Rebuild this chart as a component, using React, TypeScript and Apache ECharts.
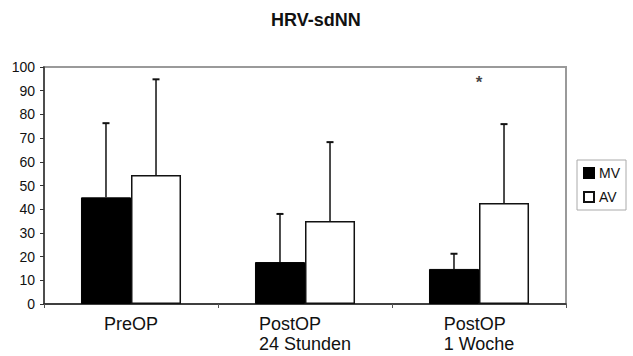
import React, { useEffect, useRef } from "react";
import * as echarts from "echarts";

const categories = ["PreOP", "PostOP\n24 Stunden", "PostOP\n1 Woche"];
const mvMean = [45, 17.7, 14.8];
const mvUpper = [76.3, 38, 21.2];
const avMean = [54.4, 35, 42.6];
const avUpper = [94.8, 68.3, 75.9];
const yTicks = { min: 0, max: 100, interval: 10 };
const star = [[2, 96]];

const FONT = "'Liberation Sans', Arial, sans-serif";

export default function App() {
  const ref = useRef<HTMLDivElement>(null);
  useEffect(() => {
    if (!ref.current) return;
    const chart = echarts.init(ref.current, null, { renderer: "svg" });
    const errData = [
      ...mvMean.map((m, i) => [i, m, mvUpper[i], -1]),
      ...avMean.map((m, i) => [i, m, avUpper[i], 1]),
    ];
    chart.setOption({
      animation: false,
      backgroundColor: "#fff",
      textStyle: { fontFamily: FONT },
      title: {
        text: "HRV-sdNN",
        left: 266,
        top: 6,
        textStyle: { fontSize: 18, fontWeight: "bold", color: "#111", fontFamily: FONT },
      },
      legend: {
        data: ["MV", "AV"],
        orient: "vertical",
        left: 577,
        top: 160,
        icon: "rect",
        itemWidth: 10,
        itemHeight: 10,
        itemGap: 10,
        itemTextGap: 3,
        padding: [6, 6, 6, 6],
        borderColor: "#aaa",
        borderWidth: 1,
        textStyle: { fontSize: 14, color: "#111", fontFamily: FONT },
      },
      grid: {
        left: 44,
        right: 67,
        top: 67,
        bottom: 52,
        show: true,
        outerBoundsMode: "none",
        containLabel: false,
        borderColor: "#9a9a9a",
        borderWidth: 2,
        backgroundColor: "transparent",
      },
      xAxis: {
        type: "category",
        data: categories,
        axisLine: { lineStyle: { color: "#222", width: 1.5 } },
        axisTick: { show: true, length: 4, lineStyle: { color: "#555" } },
        axisLabel: {
          margin: 10,
          color: "#111",
          fontSize: 18,
          fontFamily: FONT,
          lineHeight: 20,
          formatter: (v: string) =>
            v.indexOf("\n") >= 0
              ? v.split("\n").map((l) => `{a|${l}}`).join("\n")
              : v,
          rich: {
            a: { align: "left", fontSize: 18, lineHeight: 20, color: "#111", fontFamily: FONT },
          },
        },
      },
      yAxis: {
        type: "value",
        min: yTicks.min,
        max: yTicks.max,
        interval: yTicks.interval,
        splitLine: { show: false },
        axisLine: { show: true, lineStyle: { color: "#333", width: 1.5 } },
        axisTick: { show: true, length: 4, lineStyle: { color: "#333" } },
        axisLabel: { color: "#111", fontSize: 14, margin: 9, fontFamily: FONT },
      },
      series: [
        {
          name: "MV",
          type: "bar",
          data: mvMean,
          barGap: "0%",
          barCategoryGap: "42.5%",
          itemStyle: { color: "#000", borderColor: "#000", borderWidth: 1 },
        },
        {
          name: "AV",
          type: "bar",
          data: avMean,
          barGap: "0%",
          barCategoryGap: "42.5%",
          itemStyle: { color: "#fff", borderColor: "#111", borderWidth: 1.5 },
        },
        {
          name: "err",
          type: "custom",
          data: errData,
          z: 5,
          renderItem: (params: any, api: any) => {
            const cat = api.value(0);
            const lo = api.value(1);
            const hi = api.value(2);
            const side = api.value(3);
            const band = api.size([1, 0])[0];
            const base = api.coord([cat, lo]);
            const top = api.coord([cat, hi]);
            const x = base[0] + side * band * 0.14375;
            return {
              type: "group",
              children: [
                {
                  type: "line",
                  shape: { x1: x, y1: base[1], x2: x, y2: top[1] },
                  style: { stroke: "#111", lineWidth: 1.5 },
                },
                {
                  type: "line",
                  shape: { x1: x - 3.5, y1: top[1], x2: x + 3.5, y2: top[1] },
                  style: { stroke: "#111", lineWidth: 2 },
                },
              ],
            };
          },
        },
        {
          name: "star",
          type: "scatter",
          data: star,
          symbolSize: 0,
          z: 6,
          itemStyle: { color: "#111" },
          label: {
            show: true,
            position: "inside",
            formatter: "*",
            fontSize: 17,
            fontWeight: "bold",
            color: "#111",
            offset: [0, 6],
            fontFamily: FONT,
          },
        },
      ],
    });
    return () => chart.dispose();
  }, []);
  return (
    <div
      ref={ref}
      style={{ position: "absolute", left: 0, top: 0, width: 633, height: 356 }}
    />
  );
}
